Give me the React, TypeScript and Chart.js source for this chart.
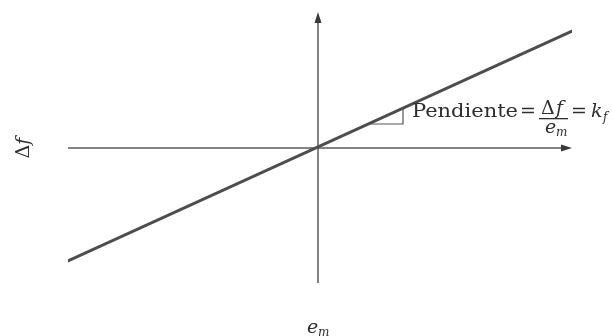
import React, { useEffect, useRef } from "react";
import { Chart, registerables } from "chart.js";

Chart.register(...registerables);

// Data (axis units)
const lineX = [-10, 10.16];
const lineY = [-11.3, 11.7];
const slopeTriX = [2.1, 3.4, 3.4];
const slopeTriY = [2.4, 2.4, 4.0];
const xRange = [-10, 10.16];
const yRange = [-13.5, 13.6];
const xAxisLabel = "e";
const xAxisSub = "m";
const yAxisLabel = "Δf";
const slopeWord = "Pendiente";

const SERIF = "'DejaVu Serif', 'Liberation Serif', serif";
const INK = "#2e2e2e";

const axesPlugin = {
  id: "axesPlugin",
  beforeDatasetsDraw(chart: any) {
    const ctx = chart.ctx;
    const xs = chart.scales.x;
    const ys = chart.scales.y;
    const x0 = xs.getPixelForValue(0);
    const y0 = ys.getPixelForValue(0);
    ctx.save();
    ctx.strokeStyle = "#5a5a5a";
    ctx.fillStyle = "#3a3a3a";
    ctx.lineWidth = 1.5;
    // horizontal axis
    ctx.beginPath();
    ctx.moveTo(xs.left, y0);
    ctx.lineTo(xs.right - 6, y0);
    ctx.stroke();
    ctx.beginPath();
    ctx.moveTo(xs.right, y0);
    ctx.lineTo(xs.right - 11, y0 - 3.5);
    ctx.lineTo(xs.right - 11, y0 + 3.5);
    ctx.closePath();
    ctx.fill();
    // vertical axis
    ctx.beginPath();
    ctx.moveTo(x0, ys.bottom);
    ctx.lineTo(x0, ys.top + 6);
    ctx.stroke();
    ctx.beginPath();
    ctx.moveTo(x0, ys.top);
    ctx.lineTo(x0 - 3.5, ys.top + 11);
    ctx.lineTo(x0 + 3.5, ys.top + 11);
    ctx.closePath();
    ctx.fill();
    ctx.restore();
  },
  afterDraw(chart: any) {
    const ctx = chart.ctx;
    const xs = chart.scales.x;
    const ys = chart.scales.y;
    const x0 = xs.getPixelForValue(0);
    const y0 = ys.getPixelForValue(0);
    ctx.save();
    ctx.fillStyle = INK;
    ctx.textBaseline = "alphabetic";
    // y axis label (rotated)
    ctx.save();
    ctx.translate(29, y0);
    ctx.rotate(-Math.PI / 2);
    ctx.textAlign = "center";
    ctx.font = `19px ${SERIF}`;
    const dW = ctx.measureText("Δ").width;
    ctx.font = `italic 19px ${SERIF}`;
    const fW = ctx.measureText("f").width;
    const tot = dW + fW;
    ctx.textAlign = "left";
    ctx.font = `19px ${SERIF}`;
    ctx.fillText("Δ", -tot / 2, 0);
    ctx.font = `italic 19px ${SERIF}`;
    ctx.fillText("f", -tot / 2 + dW, 0);
    ctx.restore();

    // x axis label e_m
    ctx.textAlign = "left";
    ctx.font = `italic 19px ${SERIF}`;
    ctx.fillText(xAxisLabel, x0 - 11, 333);
    ctx.font = `italic 12px ${SERIF}`;
    ctx.fillText(xAxisSub, x0 + 0, 336);

    // slope annotation
    const tx = xs.getPixelForValue(slopeTriX[2]) + 9;
    const base = 117;
    ctx.font = `19px ${SERIF}`;
    ctx.textAlign = "left";
    const word = slopeWord;
    const ww = ctx.measureText(word).width;
    const targetW = 106;
    ctx.save();
    ctx.translate(tx, base);
    ctx.scale(targetW / ww, 1);
    ctx.fillText(word, 0, 0);
    ctx.restore();
    // "="
    ctx.fillText("=", 520, base);
    // fraction
    ctx.fillText("Δ", 541, 114);
    ctx.font = `italic 19px ${SERIF}`;
    ctx.fillText("f", 556, 114);
    ctx.fillRect(539, 118, 29, 1.3);
    ctx.fillText("e", 545, 133);
    ctx.font = `italic 12px ${SERIF}`;
    ctx.fillText("m", 556, 136);
    // "= k_f"
    ctx.font = `19px ${SERIF}`;
    ctx.fillText("=", 571, base);
    ctx.font = `italic 19px ${SERIF}`;
    ctx.fillText("k", 591, base);
    ctx.font = `italic 12px ${SERIF}`;
    ctx.fillText("f", 603, base + 4);
    ctx.restore();
  },
};

export default function App() {
  const ref = useRef<HTMLCanvasElement | null>(null);
  useEffect(() => {
    document.body.style.margin = "0";
    const canvas = ref.current;
    if (!canvas) return;
    const chart = new Chart(canvas, {
      type: "scatter",
      data: {
        datasets: [
          {
            data: lineX.map((x, i) => ({ x, y: lineY[i] })),
            showLine: true,
            borderColor: "#4d4d4d",
            borderWidth: 3,
            pointRadius: 0,
            borderCapStyle: "round",
          },
          {
            data: slopeTriX.map((x, i) => ({ x, y: slopeTriY[i] })),
            showLine: true,
            borderColor: "#555555",
            borderWidth: 1.2,
            pointRadius: 0,
          },
        ],
      },
      options: {
        animation: false,
        responsive: false,
        maintainAspectRatio: false,
        layout: { padding: { left: 68, right: 40, top: 12, bottom: 53 } },
        plugins: { legend: { display: false }, tooltip: { enabled: false } },
        scales: {
          x: { type: "linear", min: xRange[0], max: xRange[1], display: false },
          y: { type: "linear", min: yRange[0], max: yRange[1], display: false },
        },
      },
      plugins: [axesPlugin],
    } as any);
    return () => chart.destroy();
  }, []);
  return (
    <div style={{ width: 612, height: 336, background: "#fff" }}>
      <canvas ref={ref} width={612} height={336} style={{ display: "block" }} />
    </div>
  );
}
